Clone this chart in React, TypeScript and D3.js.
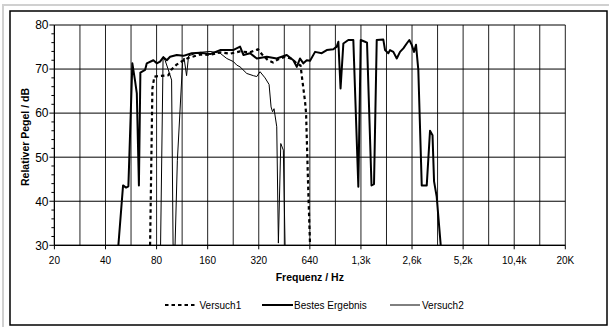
import React from "react";
import * as d3 from "d3";

// x values: octave position above 20 Hz (0 = 20 Hz, 10 = 20 kHz)
const bestesOct = [1.252, 1.344, 1.403, 1.448, 1.526, 1.579, 1.613, 1.654, 1.683, 1.775, 1.808, 1.937, 2.004, 2.068, 2.133, 2.2, 2.264, 2.395, 2.524, 2.689, 2.851, 3.047, 3.243, 3.497, 3.634, 3.699, 3.83, 3.961, 4.157, 4.352, 4.548, 4.677, 4.744, 4.808, 4.873, 4.939, 5.004, 5.102, 5.233, 5.331, 5.46, 5.526, 5.558, 5.601, 5.656, 5.753, 5.851, 5.949, 5.996, 6.08, 6.119, 6.207, 6.256, 6.309, 6.438, 6.472, 6.536, 6.569, 6.634, 6.701, 6.765, 6.83, 6.896, 6.947, 6.994, 7.039, 7.078, 7.123, 7.19, 7.288, 7.352, 7.401, 7.431, 7.483, 7.562];
const bestesDb = [30, 43.6, 43.1, 43.4, 71.3, 67.3, 64.5, 43.6, 69.2, 69.8, 71.3, 72.0, 71.3, 71.7, 72.7, 72.0, 72.8, 73.2, 73.0, 73.6, 73.7, 73.4, 74.3, 74.3, 75.1, 73.2, 73.6, 72.4, 72.8, 72.4, 73.2, 72.0, 70.5, 72.4, 71.3, 72.0, 71.9, 73.9, 73.6, 74.3, 74.5, 75.1, 76.2, 65.6, 75.8, 76.6, 76.6, 43.3, 76.6, 76.2, 76.0, 43.6, 43.9, 76.6, 76.7, 74.3, 73.6, 74.3, 73.9, 72.4, 73.9, 74.7, 75.8, 76.6, 75.5, 73.9, 75.5, 69.8, 43.6, 43.6, 56.0, 55.0, 44.5, 41.0, 30];

const versuch1Oct = [1.873, 1.918, 1.957, 2.231, 2.284, 2.391, 2.499, 2.616, 2.851, 3.047, 3.243, 3.438, 3.634, 3.83, 3.986, 4.065, 4.182, 4.28, 4.378, 4.515, 4.652, 4.75, 4.818, 4.841, 4.906, 4.926, 4.971, 5.004];
const versuch1Db = [30, 65.6, 68.3, 68.6, 69.8, 71.0, 71.8, 72.5, 73.3, 73.2, 73.8, 73.5, 74.0, 73.8, 74.5, 73.3, 72.0, 71.5, 72.2, 72.8, 72.3, 71.2, 70.8, 68.6, 62.6, 60.0, 41.7, 30];

const versuch2Oct = [2.078, 2.127, 2.166, 2.225, 2.294, 2.323, 2.362, 2.407, 2.509, 2.538, 2.587, 2.626, 2.753, 2.851, 3.047, 3.243, 3.374, 3.503, 3.569, 3.634, 3.765, 3.894, 3.961, 4.025, 4.123, 4.202, 4.241, 4.27, 4.299, 4.352, 4.384, 4.431, 4.481, 4.515];
const versuch2Db = [30, 72.5, 72.0, 70.0, 67.5, 30, 30, 49.3, 71.5, 72.5, 68.5, 73.0, 73.5, 73.8, 74.0, 73.6, 72.4, 71.7, 70.9, 70.5, 69.0, 68.5, 68.3, 69.4, 68.0, 66.5, 61.4, 60.3, 61.0, 56.9, 30.5, 53.1, 51.6, 30];

const xTickLabels = ["20", "40", "80", "160", "320", "640", "1,3k", "2,6k", "5,2k", "10,4k", "20K"];
const yTicks = [30, 40, 50, 60, 70, 80];
const seriesNames = ["Versuch1", "Bestes Ergebnis", "Versuch2"];

const FONT = "'Liberation Sans', Arial, sans-serif";

export default function App() {
  const x = d3.scaleLinear().domain([0, 10]).range([54.4, 565.3]);
  const y = d3.scaleLinear().domain([30, 80]).range([245.3, 25]);

  const mk = (xs: number[], ys: number[]) =>
    d3
      .line<number>()
      .x((_, i) => x(xs[i]))
      .y((v) => y(v))(ys) || "";

  const halfOct = d3.range(0, 10.01, 0.5);
  const minor = d3.range(30, 80.01, 2);

  const styles = [
    { w: 2.2, dash: "3.5,3" },
    { w: 2, dash: undefined },
    { w: 1, dash: undefined },
  ];
  const lines = [
    mk(versuch1Oct, versuch1Db),
    mk(bestesOct, bestesDb),
    mk(versuch2Oct, versuch2Db),
  ];
  const legendLine = [
    [165, 197],
    [262, 293],
    [390, 420],
  ];
  const legendText = [199.5, 294, 422];

  return (
    <svg
      width={609}
      height={327}
      style={{ position: "absolute", left: 0, top: 0, background: "#fff" }}
      fontFamily={FONT}
    >
      <rect x={3} y={5} width={700} height={400} fill="none" stroke="#d0d0d0" strokeWidth={2} />
      <rect x={10} y={11} width={597} height={314} fill="#fff" stroke="#000" strokeWidth={1.5} />

      <defs>
        <clipPath id="plot">
          <rect x={x(0)} y={y(80) - 2} width={x(10) - x(0)} height={y(30) - y(80) + 2} />
        </clipPath>
      </defs>

      {/* vertical gridlines */}
      {halfOct.map((o) => (
        <line key={"v" + o} x1={x(o)} x2={x(o)} y1={y(80)} y2={y(30)} stroke="#222" strokeWidth={1} />
      ))}
      {/* horizontal gridlines */}
      {yTicks.map((t) => (
        <line key={"h" + t} x1={x(0)} x2={x(10)} y1={y(t)} y2={y(t)} stroke="#000" strokeWidth={1} />
      ))}
      {/* axes */}
      <line x1={x(0)} x2={x(0)} y1={y(80)} y2={y(30)} stroke="#000" strokeWidth={1.2} />
      <line x1={x(0)} x2={x(10)} y1={y(30)} y2={y(30)} stroke="#000" strokeWidth={1.2} />
      {minor.map((t) => (
        <line key={"mt" + t} x1={x(0) - (t % 10 === 0 ? 5 : 3)} x2={x(0)} y1={y(t)} y2={y(t)} stroke="#000" strokeWidth={1} />
      ))}
      {xTickLabels.map((_, i) => (
        <line key={"xt" + i} x1={x(i)} x2={x(i)} y1={y(30)} y2={y(30) + 4} stroke="#000" strokeWidth={1} />
      ))}

      {/* tick labels */}
      {yTicks.map((t) => (
        <text key={"yl" + t} x={48.5} y={y(t)} dy="0.36em" textAnchor="end" fontSize={12} fill="#000">
          {t}
        </text>
      ))}
      {xTickLabels.map((l, i) => (
        <text key={"xl" + i} x={x(i)} y={263.5} textAnchor="middle" fontSize={10} fill="#000">
          {l}
        </text>
      ))}

      <text x={309.8} y={281} textAnchor="middle" fontSize={10.5} fontWeight="bold">
        Frequenz / Hz
      </text>
      <text
        transform="translate(28.5,137) rotate(-90)"
        textAnchor="middle"
        fontSize={10.5}
        fontWeight="bold"
      >
        Relativer Pegel / dB
      </text>

      {/* series */}
      <g clipPath="url(#plot)">
        {lines.map((d, i) => (
          <path
            key={"s" + i}
            d={d}
            fill="none"
            stroke="#000"
            strokeWidth={styles[i].w}
            strokeDasharray={styles[i].dash}
            strokeLinejoin="round"
          />
        ))}
      </g>

      {/* legend */}
      {seriesNames.map((n, i) => (
        <g key={"lg" + i}>
          <line
            x1={legendLine[i][0]}
            x2={legendLine[i][1]}
            y1={305}
            y2={305}
            stroke="#000"
            strokeWidth={styles[i].w}
            strokeDasharray={styles[i].dash}
          />
          <text x={legendText[i]} y={305} dy="0.35em" fontSize={10} fill="#000">
            {n}
          </text>
        </g>
      ))}
    </svg>
  );
}
